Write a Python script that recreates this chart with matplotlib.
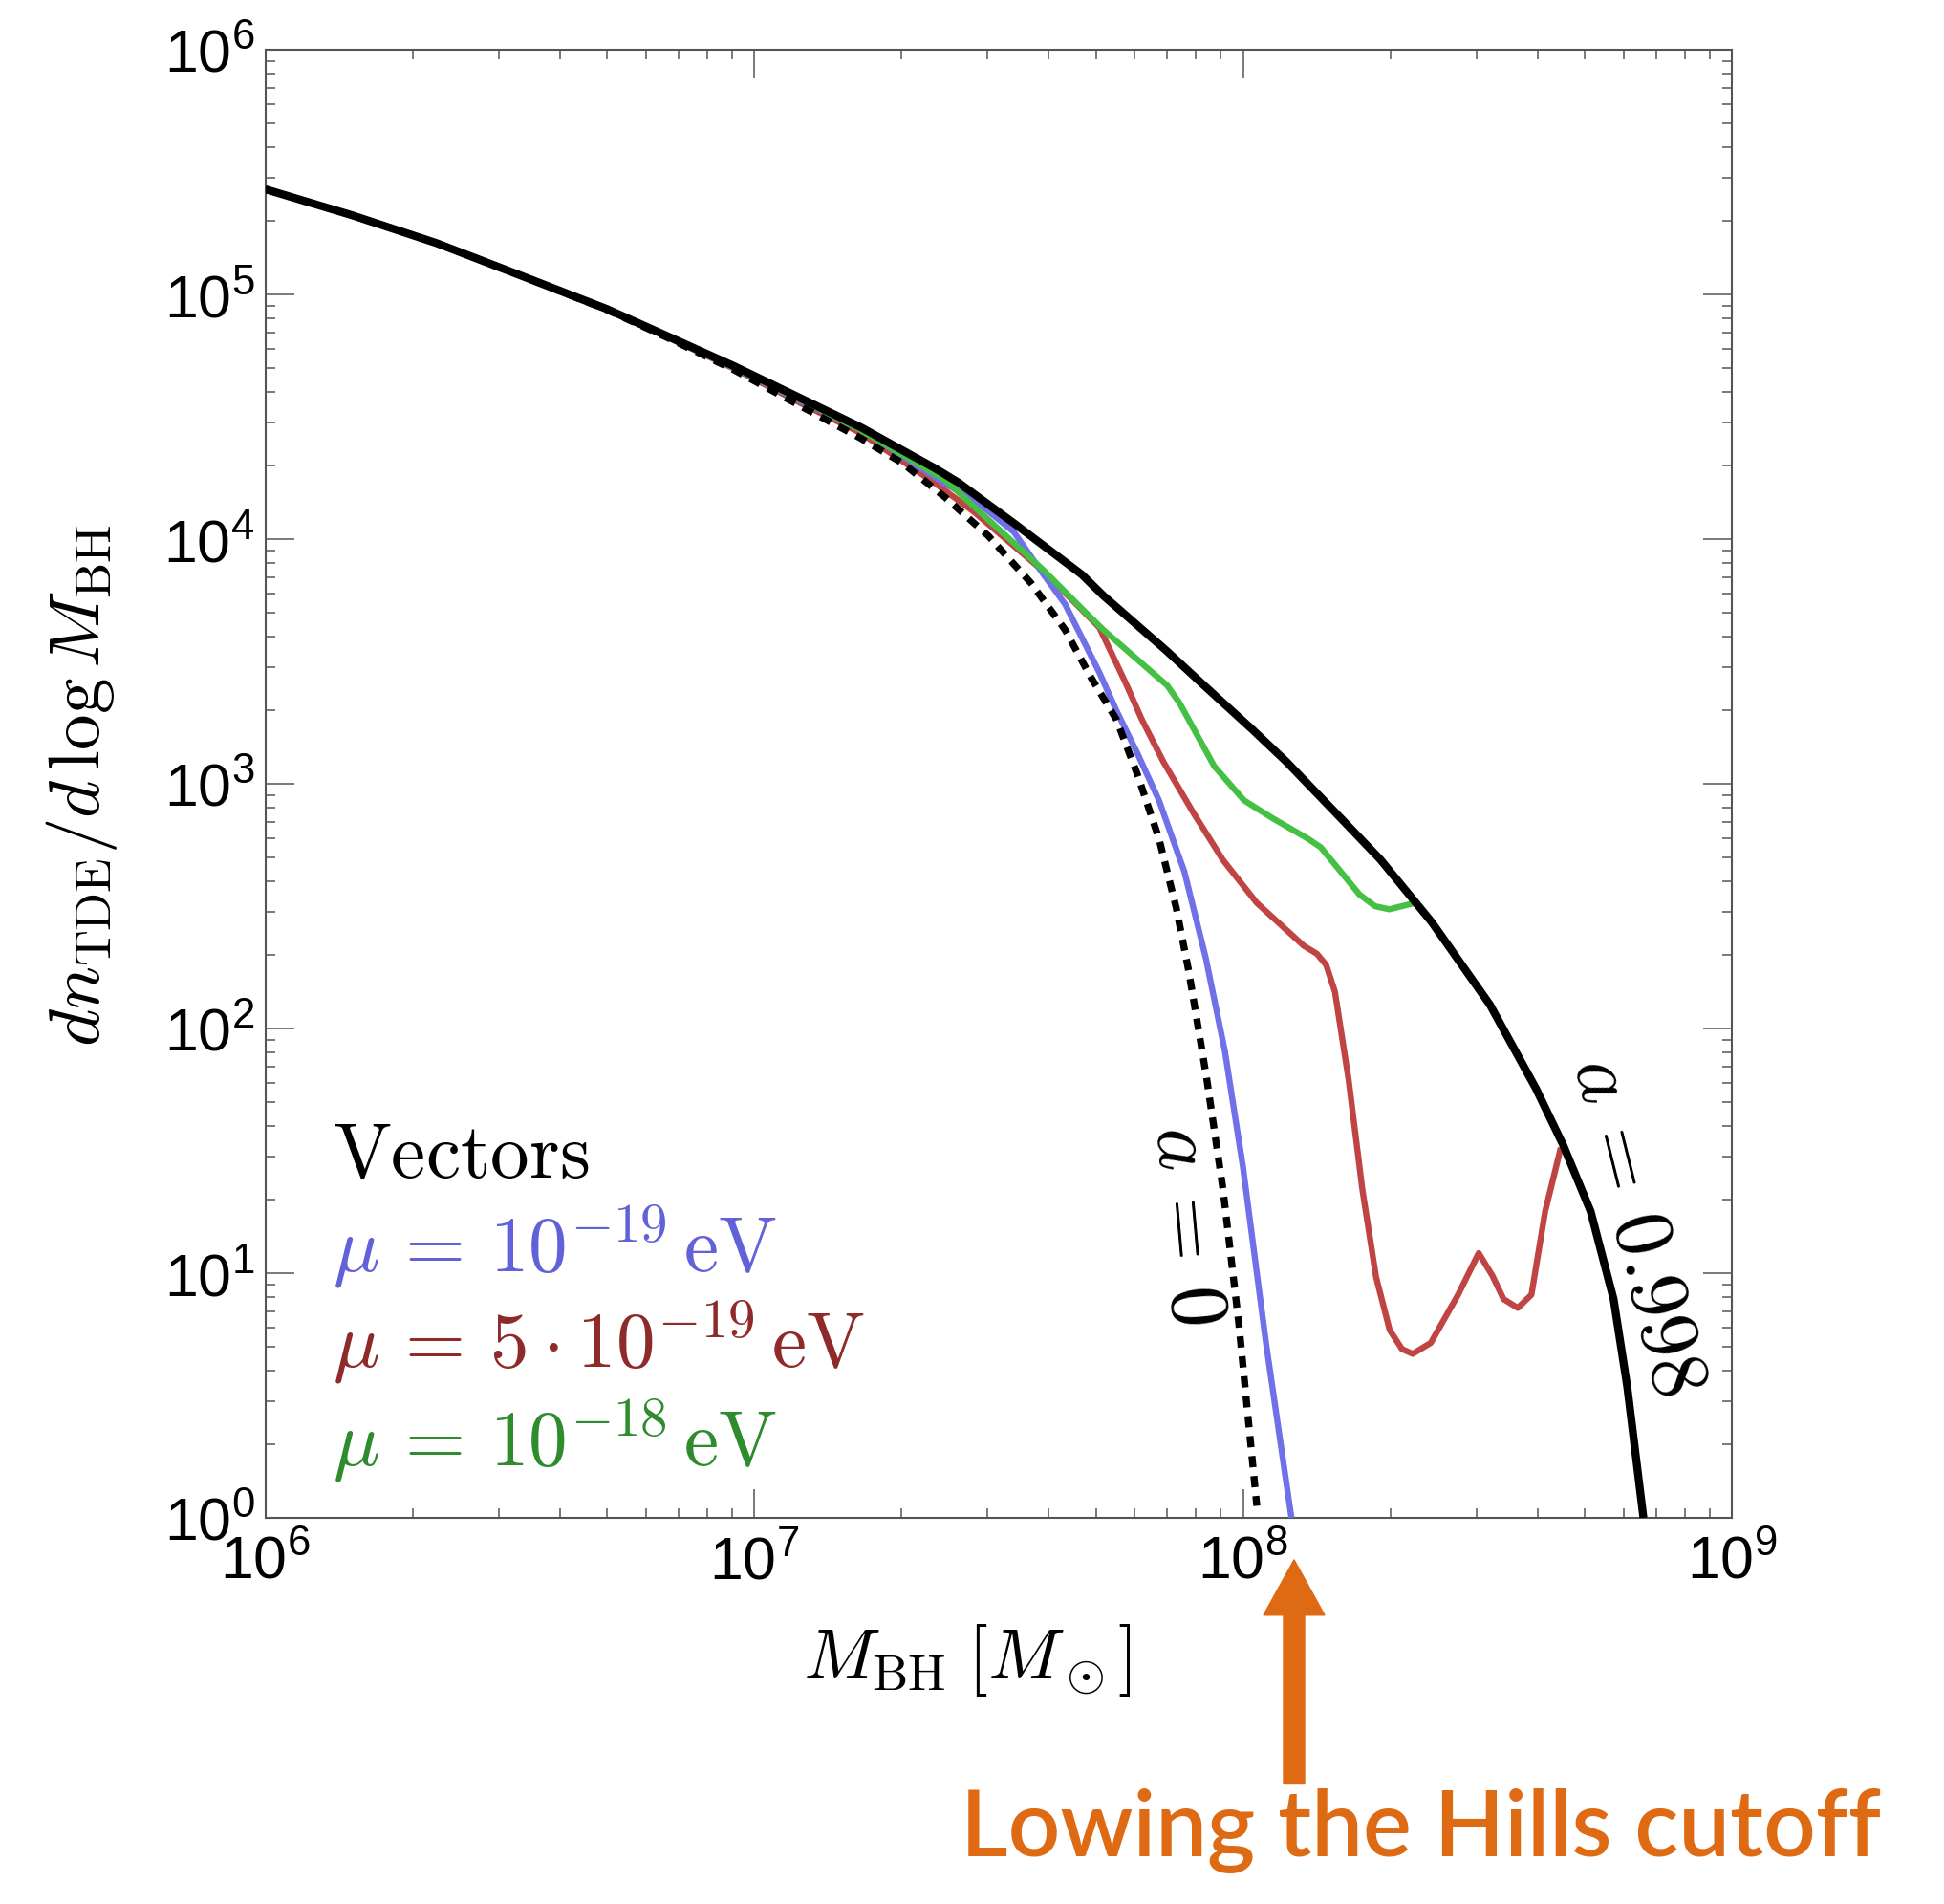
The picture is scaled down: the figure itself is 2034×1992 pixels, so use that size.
import numpy as np
import matplotlib
matplotlib.use("Agg")
import matplotlib.pyplot as plt
from matplotlib.patches import FancyArrow
from matplotlib.ticker import LogLocator, NullFormatter

# ---------------- data ----------------
M_spin = [1.00e6, 1.50e6, 2.24e6, 3.31e6, 5.00e6, 6.76e6, 9.12e6, 1.26e7, 1.66e7,
          2.34e7, 2.62e7, 3.40e7, 4.68e7, 5.18e7, 6.98e7, 8.22e7, 1.047e8, 1.227e8,
          1.596e8, 1.910e8, 2.432e8, 3.199e8, 3.972e8, 4.519e8, 5.140e8, 5.728e8,
          6.109e8, 6.592e8]
n_spin = [2.69e5, 2.11e5, 1.62e5, 1.20e5, 8.71e4, 6.65e4, 5.08e4, 3.72e4, 2.85e4,
          1.95e4, 1.70e4, 1.16e4, 7.16e3, 5.87e3, 3.49e3, 2.58e3, 1.66e3, 1.23e3,
          713, 490, 272, 125, 56.9, 33.3, 17.9, 7.83,
          3.43, 1.00]

M_nospin = [1.00e6, 1.50e6, 2.24e6, 3.31e6, 5.00e6, 6.76e6, 9.12e6, 1.26e7, 1.648e7,
            2.014e7, 2.460e7, 3.013e7, 3.681e7, 4.325e7, 4.875e7, 5.508e7, 6.081e7,
            6.730e7, 7.295e7, 7.745e7, 8.433e7, 9.099e7, 9.795e7, 1.067e8]
n_nospin = [2.69e5, 2.11e5, 1.62e5, 1.20e5, 8.65e4, 6.55e4, 4.90e4, 3.45e4, 2.59e4,
            2.04e4, 1.48e4, 1.03e4, 6.62e3, 4.26e3, 2.74e3, 1.83e3, 1.09e3,
            596, 313, 171, 61.8, 22.0, 6.31, 1.12]

M_mu1 = [1.00e6, 1.50e6, 2.24e6, 3.31e6, 5.00e6, 6.76e6, 9.12e6, 1.26e7, 1.648e7,
         2.460e7, 2.818e7, 3.396e7, 3.908e7, 4.325e7, 5.082e7, 5.508e7, 6.081e7,
         6.730e7, 7.586e7, 8.395e7, 9.183e7, 1.00e8, 1.114e8, 1.256e8]
n_mu1 = [2.69e5, 2.11e5, 1.62e5, 1.20e5, 8.68e4, 6.60e4, 5.00e4, 3.62e4, 2.82e4,
         1.68e4, 1.45e4, 1.07e4, 7.16e3, 5.42e3, 2.85e3, 1.99e3, 1.33e3,
         855, 437, 193, 80.5, 27.0, 5.19, 1.00]

M_mu5 = [1.00e6, 1.50e6, 2.24e6, 3.31e6, 5.00e6, 6.76e6, 9.12e6, 1.26e7, 1.648e7,
         2.317e7, 2.818e7, 3.908e7, 4.677e7, 5.082e7, 5.728e7, 6.209e7, 6.871e7,
         7.925e7, 9.099e7, 1.067e8, 1.330e8, 1.416e8, 1.479e8, 1.542e8, 1.644e8,
         1.754e8, 1.871e8, 1.995e8, 2.113e8, 2.223e8, 2.421e8, 2.754e8, 3.034e8,
         3.236e8, 3.412e8, 3.648e8, 3.890e8, 4.150e8, 4.467e8]
n_mu5 = [2.69e5, 2.11e5, 1.62e5, 1.20e5, 8.66e4, 6.58e4, 4.96e4, 3.55e4, 2.72e4,
         1.72e4, 1.29e4, 7.38e3, 5.15e3, 4.35e3, 2.63e3, 1.83e3, 1.23e3,
         757, 488, 326, 218, 202, 182, 141, 61.8,
         22.0, 9.64, 5.86, 4.90, 4.68, 5.19, 8.17, 12.08,
         9.77, 7.83, 7.21, 8.17, 17.9, 32.6]

M_mu10 = [1.00e6, 1.50e6, 2.24e6, 3.31e6, 5.00e6, 6.76e6, 9.12e6, 1.26e7, 1.648e7,
          2.460e7, 3.908e7, 4.677e7, 5.176e7, 6.998e7, 7.413e7, 8.730e7, 1.005e8,
          1.148e8, 1.358e8, 1.442e8, 1.585e8, 1.730e8, 1.862e8, 1.991e8, 2.249e8,
          2.432e8]
n_mu10 = [2.69e5, 2.11e5, 1.62e5, 1.20e5, 8.69e4, 6.62e4, 5.03e4, 3.67e4, 2.80e4,
          1.74e4, 7.46e3, 5.20e3, 4.26e3, 2.52e3, 2.14e3, 1.18e3, 855,
          724, 596, 550, 437, 353, 316, 307, 326,
          272]

x_ticks = [1e6, 1e7, 1e8, 1e9]
x_ticklabels = [r"$10^{6}$", r"$10^{7}$", r"$10^{8}$", r"$10^{9}$"]
y_ticks = [1e0, 1e1, 1e2, 1e3, 1e4, 1e5, 1e6]
y_ticklabels = [r"$10^{0}$", r"$10^{1}$", r"$10^{2}$", r"$10^{3}$", r"$10^{4}$",
                r"$10^{5}$", r"$10^{6}$"]

# ---------------- style ----------------
plt.rcParams["mathtext.fontset"] = "cm"
plt.rcParams["mathtext.rm"] = "Liberation Sans"
plt.rcParams["mathtext.it"] = "Liberation Sans:italic"
plt.rcParams["mathtext.bf"] = "Liberation Sans:bold"

C_BLUE = "#7070E8"
C_RED = "#C04444"
C_GREEN = "#44C044"
T_BLUE = "#6262D8"
T_RED = "#8E2A2A"
T_GREEN = "#2E8B2E"
ORANGE = "#DE6A14"
AXC = "#555555"

fig = plt.figure(figsize=(20.34, 19.92), dpi=100)
ax = fig.add_axes([0.1365, 0.2028, 0.7544, 0.7711])

kw = dict(solid_joinstyle="round", solid_capstyle="butt")
ax.plot(M_mu5, n_mu5, color=C_RED, lw=4.6, zorder=2, **kw)
ax.plot(M_mu1, n_mu1, color=C_BLUE, lw=4.6, zorder=3, **kw)
ax.plot(M_mu10, n_mu10, color=C_GREEN, lw=4.6, zorder=4, **kw)
ax.plot(M_nospin, n_nospin, color="black", lw=5.3, ls=(0, (1.6, 1.25)), zorder=5)
ax.plot(M_spin, n_spin, color="black", lw=6.0, zorder=6, **kw)

ax.set_xscale("log")
ax.set_yscale("log")
ax.set_xlim(1e6, 1e9)
ax.set_ylim(1e0, 1e6)

ax.set_xticks(x_ticks)
ax.set_xticklabels(x_ticklabels, math_fontfamily="custom", fontsize=45)
ax.set_yticks(y_ticks)
ax.set_yticklabels(y_ticklabels, math_fontfamily="custom", fontsize=45)
ax.xaxis.set_minor_locator(LogLocator(base=10, subs=np.arange(2, 10), numticks=50))
ax.yaxis.set_minor_locator(LogLocator(base=10, subs=np.arange(2, 10), numticks=50))
ax.xaxis.set_minor_formatter(NullFormatter())
ax.yaxis.set_minor_formatter(NullFormatter())

ax.tick_params(which="both", direction="in", top=True, right=True, color=AXC)
ax.tick_params(which="major", length=21.6, width=1.1)
ax.tick_params(which="minor", length=7.2, width=1.1)
ax.tick_params(axis="x", which="major", pad=12)
ax.tick_params(axis="y", which="major", pad=8)
for sp in ax.spines.values():
    sp.set_color(AXC)
    sp.set_linewidth(1.5)

# axis labels
fig.text(86 / 2034, 1 - 822 / 1992, r"$dn_{\rm TDE}/d\,\log M_{\rm BH}$",
         rotation=90, ha="center", va="center", fontsize=54)
fig.text(1012 / 2034, 1 - 1737 / 1992, r"$M_{\rm BH}\;[M_\odot]$",
         ha="center", va="center", fontsize=54)

# legend-like text
lx = 348 / 2034
fig.text(lx, 1 - 1232 / 1992, r"$\mathrm{Vectors}$", fontsize=58.5, color="black",
         ha="left", va="baseline")
fig.text(lx, 1 - 1330 / 1992, r"$\mu\,=\,10^{-19}\,\mathrm{eV}$", fontsize=58.5,
         color=T_BLUE, ha="left", va="baseline")
fig.text(lx, 1 - 1430 / 1992, r"$\mu\,=\,5\cdot 10^{-19}\,\mathrm{eV}$", fontsize=58.5,
         color=T_RED, ha="left", va="baseline")
fig.text(lx, 1 - 1533 / 1992, r"$\mu\,=\,10^{-18}\,\mathrm{eV}$", fontsize=58.5,
         color=T_GREEN, ha="left", va="baseline")

# curve labels
fig.text(1243 / 2034, 1 - 1282 / 1992, r"$a\,=\,0$", fontsize=62, rotation=-85,
         rotation_mode="anchor", ha="center", va="center")
fig.text(1713 / 2034, 1 - 1283 / 1992, r"$a\,=\,0.998$", fontsize=62, rotation=-76,
         rotation_mode="anchor", ha="center", va="center")

# orange annotation
arrow = FancyArrow(13.54, 1.265, 0, 2.337, width=0.22, head_width=0.64,
                   head_length=0.58, length_includes_head=True,
                   color=ORANGE, transform=fig.dpi_scale_trans)
fig.patches.append(arrow)
fig.text(1005 / 2034, 1 - 1942 / 1992, "Lowing the Hills cutoff", fontsize=69,
         family="Lato", fontweight="semibold", color=ORANGE, ha="left", va="baseline")

fig.savefig("out.png", dpi=100)
